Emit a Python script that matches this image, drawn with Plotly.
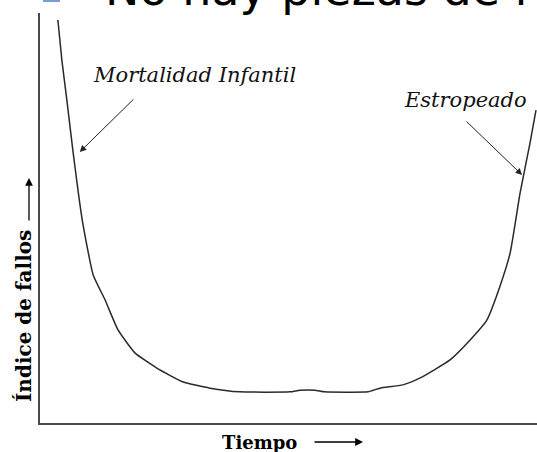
import plotly.graph_objects as go

# Bathtub curve (time %, failure-rate %)
tiempo = [3.6, 4.4, 5.4, 6.6, 8.5, 10.7, 13.1, 15.7, 19.1, 23.5, 28.8, 34.2, 40.2,
          50.3, 52.3, 55.3, 57.3, 66.0, 68.4, 73.0, 76.5, 82.5, 86.5, 89.9, 92.5,
          94.6, 96.6, 98.6, 99.8]
indice_fallos = [98.3, 88.5, 78.8, 66.6, 49.5, 36.1, 30.0, 22.7, 17.1, 13.4, 10.0, 8.5, 7.6,
                 7.6, 8.0, 8.0, 7.6, 7.6, 8.5, 9.3, 11.0, 15.4, 20.2, 25.1, 33.2,
                 41.5, 56.1, 68.3, 76.3]

titulo = "No hay piezas de r"
etiqueta_x = "Tiempo"
etiqueta_y = "Índice de fallos"
nota_izq = "Mortalidad Infantil"
nota_der = "Estropeado"

W, H = 537, 452
L, R, T, B = 40, 0, 13, 29
PW, PH = W - L - R, H - T - B


def px(xp):
    return (xp - L) / PW


def py(yp):
    return (H - B - yp) / PH


fig = go.Figure()
fig.add_trace(go.Scatter(
    x=tiempo, y=indice_fallos, mode="lines",
    line=dict(color="#2a2a2a", width=1.5, shape="spline", smoothing=0.45),
    hoverinfo="skip", showlegend=False,
))

serif = "DejaVu Serif"
annotations = [
    # top (cut-off) heading
    dict(xref="paper", yref="paper", x=px(103), y=py(-10.5), xanchor="left", yanchor="middle",
         text=titulo, showarrow=False, font=dict(family="DejaVu Sans", size=46, color="#000")),
    # callout texts
    dict(xref="x", yref="y", x=31.0, y=84.9, text=f"<i>{nota_izq}</i>", showarrow=False,
         xanchor="center", yanchor="middle", font=dict(family=serif, size=21, color="#111")),
    dict(xref="x", yref="y", x=85.7, y=78.8, text=f"<i>{nota_der}</i>", showarrow=False,
         xanchor="center", yanchor="middle", font=dict(family=serif, size=21, color="#111")),
    # callout arrows
    dict(xref="x", yref="y", axref="x", ayref="y", x=8.0, y=66.1, ax=19.1, ay=79.3, text="",
         showarrow=True, arrowhead=2, arrowsize=1.3, arrowwidth=1, arrowcolor="#222"),
    dict(xref="x", yref="y", axref="x", ayref="y", x=97.0, y=60.5, ax=85.5, ay=73.9, text="",
         showarrow=True, arrowhead=2, arrowsize=1.3, arrowwidth=1, arrowcolor="#222"),
    # axis labels
    dict(xref="paper", yref="paper", x=px(259), y=py(442), text=f"<b>{etiqueta_x}</b>",
         showarrow=False, xanchor="center", yanchor="middle",
         font=dict(family=serif, size=18, color="#000")),
    dict(xref="paper", yref="paper", x=px(363), y=py(442), ax=-50, ay=0, text="",
         showarrow=True, arrowhead=2, arrowsize=1.2, arrowwidth=1.3, arrowcolor="#000"),
    dict(xref="paper", yref="paper", x=px(24), y=py(316), text=f"<b>{etiqueta_y}</b>",
         textangle=-90, showarrow=False, xanchor="center", yanchor="middle",
         font=dict(family=serif, size=20, color="#000")),
    dict(xref="paper", yref="paper", x=px(29), y=py(178), ax=0, ay=44, text="",
         showarrow=True, arrowhead=2, arrowsize=1.2, arrowwidth=1.3, arrowcolor="#000"),
]

fig.update_layout(
    width=W, height=H,
    margin=dict(l=L, r=R, t=T, b=B, pad=0),
    paper_bgcolor="white", plot_bgcolor="white",
    xaxis=dict(range=[0, 100], showgrid=False, zeroline=False, showticklabels=False,
               ticks="", showline=True, linecolor="#4a4a4a", linewidth=2, fixedrange=True),
    yaxis=dict(range=[0, 100], showgrid=False, zeroline=False, showticklabels=False,
               ticks="", showline=True, linecolor="#4a4a4a", linewidth=2, fixedrange=True),
    annotations=annotations,
    shapes=[dict(type="rect", xref="paper", yref="paper", x0=px(43), x1=px(60),
                 y0=py(2), y1=py(-15), fillcolor="#7b9bd9", line=dict(width=0))],
)

fig.write_html("out.html", config={"displayModeBar": False},
               post_script="document.body.style.margin='0px';")
